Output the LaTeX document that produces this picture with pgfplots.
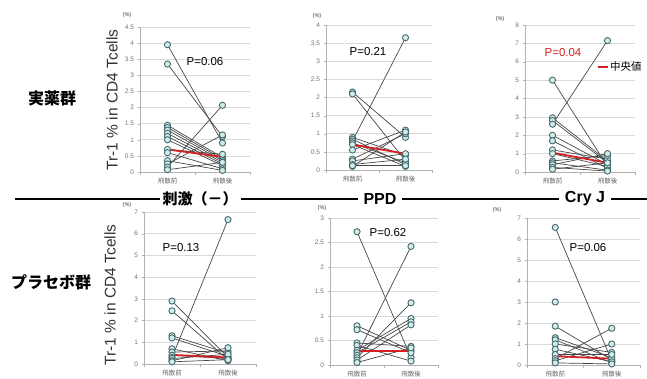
\documentclass[border=0pt]{standalone}
\usepackage{pgfplots}
\pgfplotsset{compat=1.18}
\usepackage{fontspec}
\setmainfont{Liberation Sans}
\newfontfamily\jp{Noto Sans CJK JP}
\definecolor{mk}{HTML}{456A6C}
\definecolor{mkfill}{HTML}{D2ECEC}
\definecolor{gridc}{HTML}{D9D9D9}
\definecolor{med}{HTML}{D42020}
\pgfplotsset{
  panel/.style={scale only axis, anchor=south west,
    xmin=-0.5, xmax=1.5, ymin=0,
    xtick={0,1}, xticklabels={飛散前,飛散後},
    xticklabel style={font=\jp\fontsize{6.5}{7}\selectfont, text=gray!80!black},
    yticklabel style={font=\fontsize{6.5}{7}\selectfont, text=gray!90!black},
    /pgf/number format/assume math mode=true,
    major x tick style={draw=none},
    minor xtick={-0.5,0.5,1.5},
    minor tick length=3pt, major tick length=2.5pt, tick align=outside,
    tick style={gray!60},
    axis lines*=left, axis line style={gray!60, -},
    ymajorgrids, grid style={gridc, line width=0.6pt},
    clip=false},
  pair/.style={color=black!72, line width=0.7pt, mark=*, mark size=3.1pt,
    mark options={draw=mk, fill=mkfill, line width=0.9pt}},
  medl/.style={color=med, line width=1.8pt, no marks},
}
\newcommand{\pr}[2]{\addplot[pair] coordinates {(0,#1) (1,#2)};}
\begin{document}
\begin{tikzpicture}
\useasboundingbox (0,0) rectangle (647pt,379pt);
% ---------- top row ----------
\begin{axis}[panel, at={(140pt,207pt)}, width=110pt, height=145pt, ymax=4.5, ytick distance=0.5]
\pr{3.95}{0.9}\pr{3.35}{1.1}\pr{1.45}{0.45}\pr{1.38}{0.4}\pr{1.3}{0.35}\pr{1.2}{0.3}
\pr{1.1}{0.25}\pr{1.0}{0.2}\pr{0.7}{0.55}\pr{0.6}{0.1}\pr{0.35}{0.05}\pr{0.25}{1.15}
\pr{0.15}{2.07}\pr{0.07}{0.3}
\addplot[medl] coordinates {(0,0.7) (1,0.47)};
\end{axis}
\begin{axis}[panel, at={(326pt,209pt)}, width=106pt, height=145pt, ymax=4, ytick distance=0.5]
\pr{2.15}{0.9}\pr{2.1}{0.25}\pr{0.9}{0.4}\pr{0.85}{0.15}\pr{0.8}{3.65}\pr{0.75}{0.2}
\pr{0.7}{0.1}\pr{0.55}{1.1}\pr{0.3}{1.0}\pr{0.25}{0.45}\pr{0.15}{0.3}\pr{0.1}{1.05}
\pr{0.12}{0.12}
\addplot[medl] coordinates {(0,0.7) (1,0.45)};
\end{axis}
\begin{axis}[panel, at={(525pt,207pt)}, width=110pt, height=147pt, ymax=8, ytick distance=1]
\pr{5.0}{0.3}\pr{2.95}{0.6}\pr{2.8}{0.5}\pr{2.6}{7.15}\pr{2.0}{0.4}\pr{1.7}{0.2}
\pr{1.2}{0.7}\pr{1.0}{0.3}\pr{0.6}{0.9}\pr{0.5}{0.1}\pr{0.4}{1.0}\pr{0.25}{0.05}
\pr{0.15}{0.5}
\addplot[medl] coordinates {(0,1.05) (1,0.5)};
\end{axis}
% ---------- bottom row ----------
\begin{axis}[panel, at={(144pt,15pt)}, width=112pt, height=152pt, ymax=7, ytick distance=1]
\pr{2.9}{0.3}\pr{2.45}{0.2}\pr{1.3}{0.5}\pr{1.2}{0.35}\pr{0.7}{0.15}\pr{0.55}{0.6}
\pr{0.4}{0.25}\pr{0.3}{6.65}\pr{0.25}{0.45}\pr{0.15}{0.75}\pr{0.1}{0.2}
\addplot[medl] coordinates {(0,0.42) (1,0.3)};
\end{axis}
\begin{axis}[panel, at={(330pt,14pt)}, width=108pt, height=147pt, ymax=3, ytick distance=0.5]
\pr{2.72}{0.15}\pr{0.8}{0.3}\pr{0.72}{0.25}\pr{0.45}{0.38}\pr{0.4}{0.08}\pr{0.3}{0.95}
\pr{0.25}{0.88}\pr{0.2}{2.42}\pr{0.15}{1.27}\pr{0.1}{0.82}\pr{0.05}{0.35}
\addplot[medl] coordinates {(0,0.28) (1,0.28)};
\end{axis}
\begin{axis}[panel, at={(527pt,14pt)}, width=113pt, height=147pt, ymax=7, ytick distance=1]
\pr{6.55}{0.2}\pr{1.85}{0.25}\pr{1.3}{0.35}\pr{1.2}{0.1}\pr{1.0}{0.6}\pr{0.75}{0.15}
\pr{0.5}{0.5}\pr{0.3}{1.75}\pr{0.2}{1.0}\pr{0.1}{0.05}
\addplot[pair] coordinates {(0,3.0)};
\addplot[medl] coordinates {(0,0.42) (1,0.3)};
\end{axis}
% ---------- annotations ----------
\node[font=\fontsize{11.5}{13}\selectfont] at (205pt,317pt) {P=0.06};
\node[font=\fontsize{11.5}{13}\selectfont] at (368pt,327pt) {P=0.21};
\node[font=\fontsize{11.5}{13}\selectfont, text=med] at (563pt,326pt) {P=0.04};
\node[font=\fontsize{11.5}{13}\selectfont] at (181pt,131pt) {P=0.13};
\node[font=\fontsize{11.5}{13}\selectfont] at (388pt,146pt) {P=0.62};
\node[font=\fontsize{11.5}{13}\selectfont] at (588pt,131pt) {P=0.06};
% (%) labels
\foreach \x/\y in {127/364, 317/363, 500/360, 127/174, 322/171, 497/169}
  \node[font=\fontsize{5.5}{6}\selectfont, text=black!80] at (\x pt,\y pt) {(\%)};
% y labels
\node[rotate=90, font=\fontsize{15.5}{17}\selectfont, text=black!80] at (112pt,279pt) {Tr-1 \% in CD4 Tcells};
\node[rotate=90, font=\fontsize{15.5}{17}\selectfont, text=black!80] at (110pt,84pt) {Tr-1 \% in CD4 Tcells};
% row labels
\node[font=\jp\bfseries\fontsize{16}{18}\selectfont] at (52pt,281pt) {実薬群};
\node[font=\jp\bfseries\fontsize{16}{18}\selectfont] at (51pt,97pt) {プラセボ群};
% divider
\draw[line width=1.6pt] (15pt,180pt) -- (647pt,180pt);
\node[fill=white, inner xsep=3pt, font=\jp\bfseries\fontsize{15}{17}\selectfont] at (200pt,180pt) {刺激（－）};
\node[fill=white, inner xsep=6pt, font=\bfseries\fontsize{16}{18}\selectfont] at (380pt,180pt) {PPD};
\node[fill=white, inner xsep=6pt, font=\bfseries\fontsize{16}{18}\selectfont] at (585pt,180pt) {Cry J};
% legend
\draw[med, line width=2pt] (598pt,312pt) -- (608pt,312pt);
\node[anchor=west, inner sep=1pt, font=\jp\fontsize{10.5}{12}\selectfont] at (609pt,312pt) {中央値};
\end{tikzpicture}
\end{document}
